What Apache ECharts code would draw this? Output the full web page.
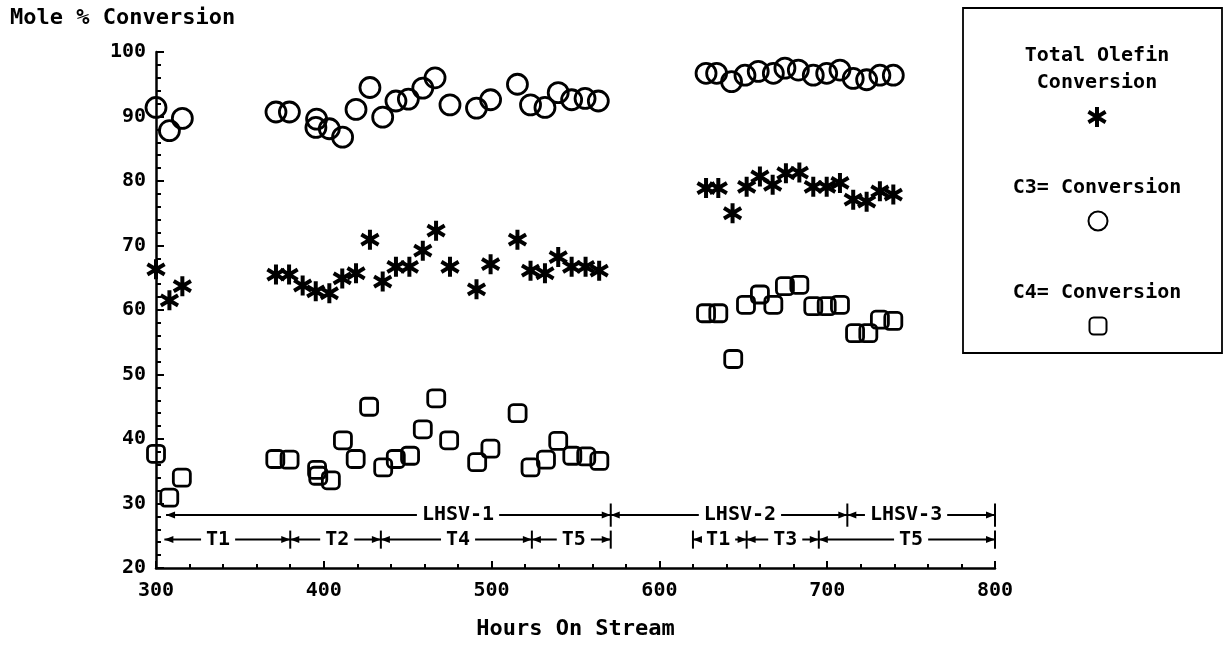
<!DOCTYPE html>
<html><head><meta charset="utf-8">
<script src="https://cdn.jsdelivr.net/npm/echarts@6/dist/echarts.min.js"></script>
<style>html,body{margin:0;padding:0;background:#fff}#c{width:1228px;height:645px}</style>
</head><body><div id="c"></div>
<script>
// ---- data ----
const totalHours = [300,308,315.7,371.5,379.3,387.4,395.2,403.3,411,419.2,427.5,435.1,443,451,459,466.9,475.2,491,499.4,515.4,523.2,531.8,539.7,547.7,556,564.1,627.8,635.1,643.6,652,659.9,667.5,675.4,683.4,691.7,699.7,707.6,715.5,723.5,731.4,739.4];
const totalValues = [66.3,61.5,63.7,65.5,65.5,63.8,62.9,62.6,64.9,65.7,70.9,64.4,66.7,66.7,69.2,72.3,66.7,63.2,67.1,70.9,66.1,65.7,68.2,66.7,66.7,66.1,78.9,78.9,75.0,79.1,80.7,79.4,81.2,81.3,79.1,79.1,79.7,77.1,76.8,78.4,77.9];
const c3Hours = [300,308,315.7,371.5,379.5,395.7,395.3,403.3,411.2,419.2,427.5,435.1,443,450.4,459,466.3,475.2,491,499.4,515.4,523.2,531.8,539.7,547.7,555.7,563.6,627.8,634.1,643,651,658.9,667.9,674.8,682.8,691.7,699.7,707.6,715.5,723.5,731.4,739.4];
const c3Values = [91.4,87.8,89.7,90.7,90.7,89.6,88.3,88.1,86.8,91.1,94.5,89.9,92.4,92.7,94.4,96.0,91.8,91.3,92.6,95.0,91.8,91.4,93.7,92.6,92.8,92.4,96.7,96.7,95.4,96.4,97.0,96.7,97.5,97.2,96.4,96.7,97.2,95.9,95.7,96.4,96.4];
const c4Hours = [300,307.9,315.4,371.1,379.6,396,396.7,404.2,411.4,419,427,435.4,442.9,451.4,459,467,474.7,491.4,499.3,515.5,523.2,532.4,539.7,548.1,556.4,564.2,627.8,635.1,644,651.6,659.9,667.9,674.8,683.4,691.7,699.7,707.6,716.6,724.5,731.4,739.4];
const c4Values = [37.7,30.9,34.0,36.9,36.8,35.2,34.3,33.6,39.8,36.9,45.0,35.6,36.9,37.4,41.5,46.3,39.8,36.4,38.5,44.0,35.6,36.8,39.7,37.4,37.3,36.6,59.5,59.5,52.4,60.8,62.4,60.8,63.7,63.9,60.6,60.6,60.8,56.4,56.4,58.5,58.3];

const seriesNames = ['Total Olefin Conversion','C3= Conversion','C4= Conversion'];

// annotation rows (period labels along the bottom of the plot)
const lhsvLabels = ['LHSV-1','LHSV-2','LHSV-3'];
const lhsvStart = [306, 571, 712];
const lhsvEnd = [571, 712, 800];
const lhsvTextAt = [480, 648, 747];
const lhsvLevel = 28.2;
const tLabels = ['T1','T2','T4','T5','T1','T3','T5'];
const tStart = [305, 380, 434, 524, 620, 652, 695];
const tEnd = [380, 434, 524, 571, 652, 695, 800];
const tTextAt = [337, 408, 480, 549, 635, 675, 750];
const tLevel = 24.4;

// ---- build ----
const FONT = '"DejaVu Sans Mono", monospace';
const zip = (a, b) => a.map((v, i) => [v, b[i]]);
const starPath = 'path://M-20,-100 L-20,100 L20,100 L20,-100 Z M76,69 L96,34 L-76,-69 L-96,-34 Z M-96,34 L-76,69 L96,-34 L76,-69 Z';

const rows = [];
lhsvLabels.forEach((l, i) => rows.push({label: l, start: lhsvStart[i], end: lhsvEnd[i], at: lhsvTextAt[i], level: lhsvLevel, bar: 1.8, ends: lhsvEnd}));
tLabels.forEach((l, i) => rows.push({label: l, start: tStart[i], end: tEnd[i], at: tTextAt[i], level: tLevel, bar: 1.4, ends: tEnd}));

function renderRow(params, api) {
  const r = rows[params.dataIndex];
  const y = api.value(2);
  const s = api.coord([api.value(0), y]);
  const e = api.coord([api.value(1), y]);
  const t = api.coord([api.value(3), y]);
  const ch = [
    {type: 'line', shape: {x1: s[0], y1: s[1], x2: e[0], y2: e[1]}, style: {stroke: '#000', lineWidth: 2}}
  ];
  ch.push({type: 'text', style: {text: r.label, x: t[0], y: t[1], align: 'center', verticalAlign: 'middle',
    fontFamily: FONT, fontWeight: 'bold', fontSize: 20, fill: '#000', backgroundColor: '#fff', padding: [1, 5]}});
  ch.push({type: 'polygon', shape: {points: [[s[0], s[1]], [s[0] + 9, s[1] - 3.5], [s[0] + 9, s[1] + 3.5]]}, style: {fill: '#000'}});
  ch.push({type: 'polygon', shape: {points: [[e[0], e[1]], [e[0] - 9, e[1] - 3.5], [e[0] - 9, e[1] + 3.5]]}, style: {fill: '#000'}});
  const bar = (x) => {
    const a = api.coord([x, y + r.bar]), b = api.coord([x, y - r.bar]);
    ch.push({type: 'line', shape: {x1: a[0], y1: a[1], x2: b[0], y2: b[1]}, style: {stroke: '#000', lineWidth: 2}});
  };
  bar(api.value(1));
  if (r.start > 310 && r.ends.indexOf(r.start) < 0) bar(r.start);
  return {type: 'group', children: ch};
}

const chart = echarts.init(document.getElementById('c'), null, {renderer: 'canvas'});
const legendText = (text, y) => ({type: 'text', style: {text, x: 1097, y, align: 'center', verticalAlign: 'middle',
  fontFamily: FONT, fontWeight: 'bold', fontSize: 20, fill: '#000'}});
const mkLegend = (name, cx, cy, size) => ({
  data: [name], left: cx - size / 2, top: cy - size / 2, itemWidth: size, itemHeight: size, padding: 0,
  selectedMode: false, formatter: () => '', textStyle: {fontSize: 1, color: 'rgba(0,0,0,0)'}
});

chart.setOption({
  animation: false,
  backgroundColor: '#fff',
  title: {text: 'Mole % Conversion', left: 10, top: 7, padding: 0,
    textStyle: {fontFamily: FONT, fontWeight: 'bold', fontSize: 22, color: '#000'}},
  grid: {left: 156, right: 233, top: 52, bottom: 76},
  xAxis: {
    type: 'value', min: 300, max: 800, interval: 100,
    axisLine: {show: true, lineStyle: {color: '#000', width: 2.5}},
    axisTick: {show: true, inside: true, length: 7, lineStyle: {color: '#000', width: 2}},
    minorTick: {show: true, splitNumber: 5, length: 4, lineStyle: {color: '#000', width: 2}},
    splitLine: {show: false},
    axisLabel: {color: '#000', fontFamily: FONT, fontWeight: 'bold', fontSize: 20, margin: 13},
    name: 'Hours On Stream', nameLocation: 'middle', nameGap: 50,
    nameTextStyle: {color: '#000', fontFamily: FONT, fontWeight: 'bold', fontSize: 22}
  },
  yAxis: {
    type: 'value', min: 20, max: 100, interval: 10,
    axisLine: {show: true, lineStyle: {color: '#000', width: 2.5}},
    axisTick: {show: true, inside: true, length: 8, lineStyle: {color: '#000', width: 2}},
    minorTick: {show: true, splitNumber: 5, length: 5, lineStyle: {color: '#000', width: 2}},
    splitLine: {show: false},
    axisLabel: {color: '#000', fontFamily: FONT, fontWeight: 'bold', fontSize: 20, margin: 10}
  },
  legend: [
    mkLegend(seriesNames[0], 1097, 117, 20),
    mkLegend(seriesNames[1], 1097, 220, 19),
    mkLegend(seriesNames[2], 1097, 325, 17)
  ],
  graphic: [
    {type: 'rect', shape: {x: 963, y: 8, width: 259, height: 345}, style: {fill: 'none', stroke: '#000', lineWidth: 1.8}, z: 10},
    legendText('Total Olefin', 56),
    legendText('Conversion', 83),
    legendText('C3= Conversion', 188),
    legendText('C4= Conversion', 293)
  ],
  series: [
    {name: seriesNames[0], type: 'scatter', data: zip(totalHours, totalValues), symbol: starPath, symbolSize: 20,
      symbolKeepAspect: true, itemStyle: {color: '#000', opacity: 1}, emphasis: {disabled: true}},
    {name: seriesNames[1], type: 'scatter', data: zip(c3Hours, c3Values), symbol: 'circle', symbolSize: 20,
      itemStyle: {color: 'rgba(0,0,0,0)', borderColor: '#000', borderWidth: 2.8, opacity: 1}, emphasis: {disabled: true}},
    {name: seriesNames[2], type: 'scatter', data: zip(c4Hours, c4Values), symbol: 'roundRect', symbolSize: 17,
      itemStyle: {color: 'rgba(0,0,0,0)', borderColor: '#000', borderWidth: 2.8, opacity: 1}, emphasis: {disabled: true}},
    {type: 'custom', coordinateSystem: 'cartesian2d', silent: true,
      data: rows.map(r => [r.start, r.end, r.level, r.at]), encode: {x: [0, 1, 3], y: 2},
      renderItem: renderRow, z: 5}
  ]
});
</script></body></html>
